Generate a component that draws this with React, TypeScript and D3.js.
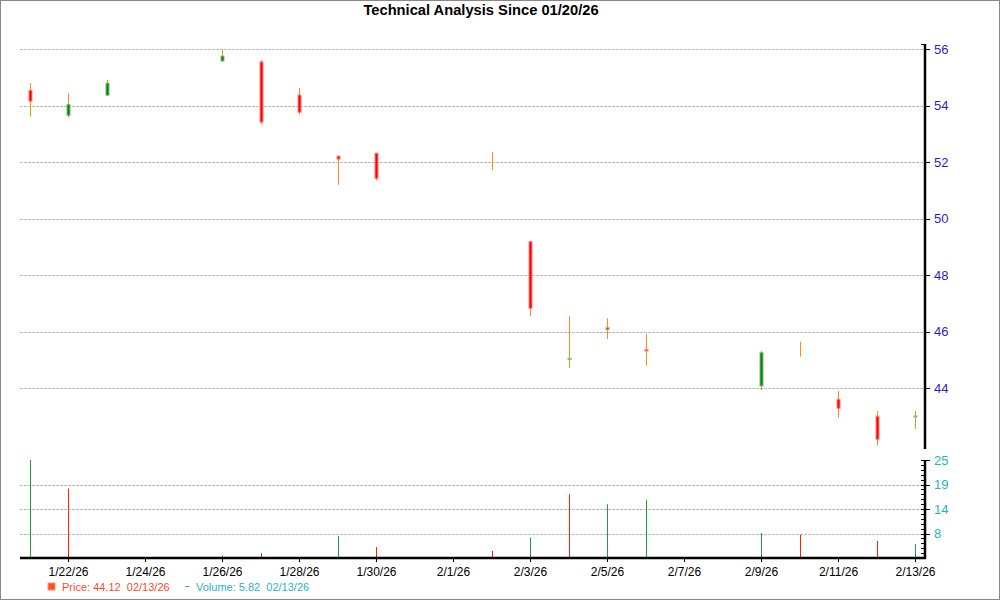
import React from "react";
import * as d3 from "d3";

const dates: string[] = [
  "2026-01-21", "2026-01-22", "2026-01-23", "2026-01-26", "2026-01-27", "2026-01-28",
  "2026-01-29", "2026-01-30", "2026-02-02", "2026-02-03", "2026-02-04", "2026-02-05",
  "2026-02-06", "2026-02-09", "2026-02-10", "2026-02-11", "2026-02-12", "2026-02-13",
];
const opens: number[] = [54.55, 53.66, 54.37, 55.58, 55.55, 54.38, 52.22, 52.32, 52.0, 49.19, 45.02, 46.14, 45.37, 44.08, 45.21, 43.61, 43.01, 42.99];
const highs: number[] = [54.80, 54.44, 54.91, 56.0, 55.62, 54.62, 52.22, 52.32, 52.36, 49.19, 46.56, 46.48, 45.91, 45.32, 45.65, 43.90, 43.20, 43.20];
const lows: number[] = [53.61, 53.58, 54.37, 55.58, 53.33, 53.68, 51.20, 51.35, 51.73, 46.56, 44.72, 45.74, 44.80, 43.94, 45.12, 42.96, 41.97, 42.56];
const closes: number[] = [54.16, 54.05, 54.80, 55.76, 53.42, 53.77, 52.11, 51.43, 52.0, 46.83, 45.06, 46.08, 45.32, 45.26, 45.21, 43.29, 42.19, 43.02];
const volumes: number[] = [25, 18.5, 2.5, 3.1, 3.7, 2.5, 7.6, 5.1, 4.2, 7.3, 17.2, 14.9, 15.9, 8.3, 7.9, 2.5, 6.5, 5.82];
const volumeUp: boolean[] = [true, false, true, false, false, false, true, false, false, true, false, true, true, true, false, false, false, true];

const priceTicks: number[] = [44, 46, 48, 50, 52, 54, 56];
const volumeTicks: number[] = [8.2, 13.8, 19.4, 25];
const dateTickLabels: string[] = [
  "2026-01-22", "2026-01-24", "2026-01-26", "2026-01-28", "2026-01-30", "2026-02-01",
  "2026-02-03", "2026-02-05", "2026-02-07", "2026-02-09", "2026-02-11", "2026-02-13",
];
const titleText = "Technical Analysis Since 01/20/26";
const priceLegend = "Price: 44.12  02/13/26";
const volumeLegend = "Volume: 5.82  02/13/26";

const parse = d3.timeParse("%Y-%m-%d");
const fmtDate = d3.timeFormat("%-m/%-d/%y");

export default function App() {
  const W = 1000, H = 600;
  const left = 20, right = 925;
  const DAY = 86400000;
  const first = parse(dates[0])!;
  const last = parse(dates[dates.length - 1])!;
  const x = d3.scaleTime()
    .domain([new Date(first.getTime() - 0.26 * DAY), new Date(last.getTime() + 0.26 * DAY)])
    .range([left, right]);
  const yP = d3.scaleLinear().domain([41.84, 56.16]).range([449.3, 44.7]);
  const yV = d3.scaleLinear().domain([2.6, 25]).range([558, 460]).clamp(true);

  const font = "'Liberation Sans', Arial, sans-serif";
  const volStep = (volumeTicks[1] - volumeTicks[0]) / 5;
  const minorV: number[] = [];
  for (let v = 2.6 + volStep; v < 25 + 1e-6; v += volStep) minorV.push(v);

  const candles = dates.map((d, i) => ({
    x: Math.round(x(parse(d)!)) + 0.5,
    o: opens[i], h: highs[i], l: lows[i], c: closes[i], v: volumes[i], up: volumeUp[i],
  }));

  return (
    <svg width={W} height={H} style={{ position: "absolute", left: 0, top: 0, background: "#fff" }}>
      <rect x={0.5} y={0.5} width={W - 1} height={H - 1} fill="#fff" stroke="#888" />
      <text x={481} y={15} textAnchor="middle" fontFamily={font} fontWeight="bold" fontSize={14.7} fill="#000">{titleText}</text>

      {/* price grid */}
      {priceTicks.map(t => (
        <line key={"pg" + t} x1={left} x2={right} y1={Math.round(yP(t)) + 0.5} y2={Math.round(yP(t)) + 0.5}
          stroke="#bbb" strokeDasharray="3,1" strokeWidth={1} />
      ))}
      {/* volume grid */}
      {volumeTicks.filter(t => t < 25).map(t => (
        <line key={"vg" + t} x1={left} x2={right} y1={Math.round(yV(t)) + 0.5} y2={Math.round(yV(t)) + 0.5}
          stroke="#bbb" strokeDasharray="3,1" strokeWidth={1} />
      ))}

      {/* volume bars */}
      {candles.map((c, i) => (
        yV(c.v) < 557 ? (
          <line key={"v" + i} x1={c.x} x2={c.x} y1={yV(c.v)} y2={558}
            stroke={c.up ? "#1aa040" : "#ff2000"} strokeWidth={1} />
        ) : null
      ))}

      {/* candles */}
      {candles.map((c, i) => {
        const up = c.c >= c.o;
        const top = yP(Math.max(c.o, c.c));
        const bot = yP(Math.min(c.o, c.c));
        const hgt = Math.max(bot - top, 1);
        const doji = Math.abs(c.c - c.o) < 0.001;
        return (
          <g key={"c" + i}>
            <line x1={c.x} x2={c.x} y1={yP(c.h)} y2={yP(c.l)} stroke="#f39020" strokeWidth={1} />
            {!doji && (
              <rect x={c.x - 1.5} y={top} width={3} height={hgt}
                fill={up ? "#008000" : "#ff0000"} stroke={up ? "#80c080" : "#ff8080"} strokeWidth={1} />
            )}
          </g>
        );
      })}

      {/* x axis */}
      <line x1={left} x2={right + 1} y1={558} y2={558} stroke="#000" strokeWidth={2.5} />
      {dateTickLabels.map(d => {
        const xx = Math.round(x(parse(d)!)) + 0.5;
        return (
          <g key={"dt" + d}>
            <line x1={xx} x2={xx} y1={558} y2={562} stroke="#000" strokeWidth={1} />
            <text x={xx} y={576} textAnchor="middle" fontFamily={font} fontSize={12} fill="#000">{fmtDate(parse(d)!)}</text>
          </g>
        );
      })}

      {/* price axis */}
      <line x1={925} x2={925} y1={44} y2={449} stroke="#000" strokeWidth={2.5} />
      <line x1={921} x2={925} y1={44.5} y2={44.5} stroke="#000" strokeWidth={1} />
      {priceTicks.map(t => (
        <g key={"pt" + t}>
          <line x1={925} x2={930} y1={Math.round(yP(t)) + 0.5} y2={Math.round(yP(t)) + 0.5} stroke="#000" strokeWidth={1} />
          <text x={934} y={yP(t) + 4.5} fontFamily={font} fontSize={13} fill="#2a1fbf">{t}</text>
        </g>
      ))}

      {/* volume axis */}
      <line x1={925} x2={925} y1={460} y2={559} stroke="#000" strokeWidth={2.5} />
      {minorV.map((t, i) => (
        <line key={"mv" + i} x1={921} x2={925} y1={Math.round(yV(t)) + 0.5} y2={Math.round(yV(t)) + 0.5} stroke="#000" strokeWidth={1} />
      ))}
      {volumeTicks.map(t => (
        <g key={"vt" + t}>
          <line x1={925} x2={930} y1={Math.round(yV(t)) + 0.5} y2={Math.round(yV(t)) + 0.5} stroke="#000" strokeWidth={1} />
          <text x={934} y={yV(t) + 4.5} fontFamily={font} fontSize={13} fill="#1fb5c5">{d3.format(".0f")(t)}</text>
        </g>
      ))}

      {/* legend */}
      <rect x={48} y={583} width={7} height={7} fill="#ff5020" stroke="#ff9070" strokeWidth={1} />
      <text x={62} y={591} fontFamily={font} fontSize={11} fill="#ff4a2a" style={{ whiteSpace: "pre" }}>{priceLegend}</text>
      <line x1={185} x2={189} y1={586.5} y2={586.5} stroke="#1fb5c5" strokeWidth={1} />
      <text x={196} y={591} fontFamily={font} fontSize={11} fill="#1fb5c5" style={{ whiteSpace: "pre" }}>{volumeLegend}</text>
    </svg>
  );
}
